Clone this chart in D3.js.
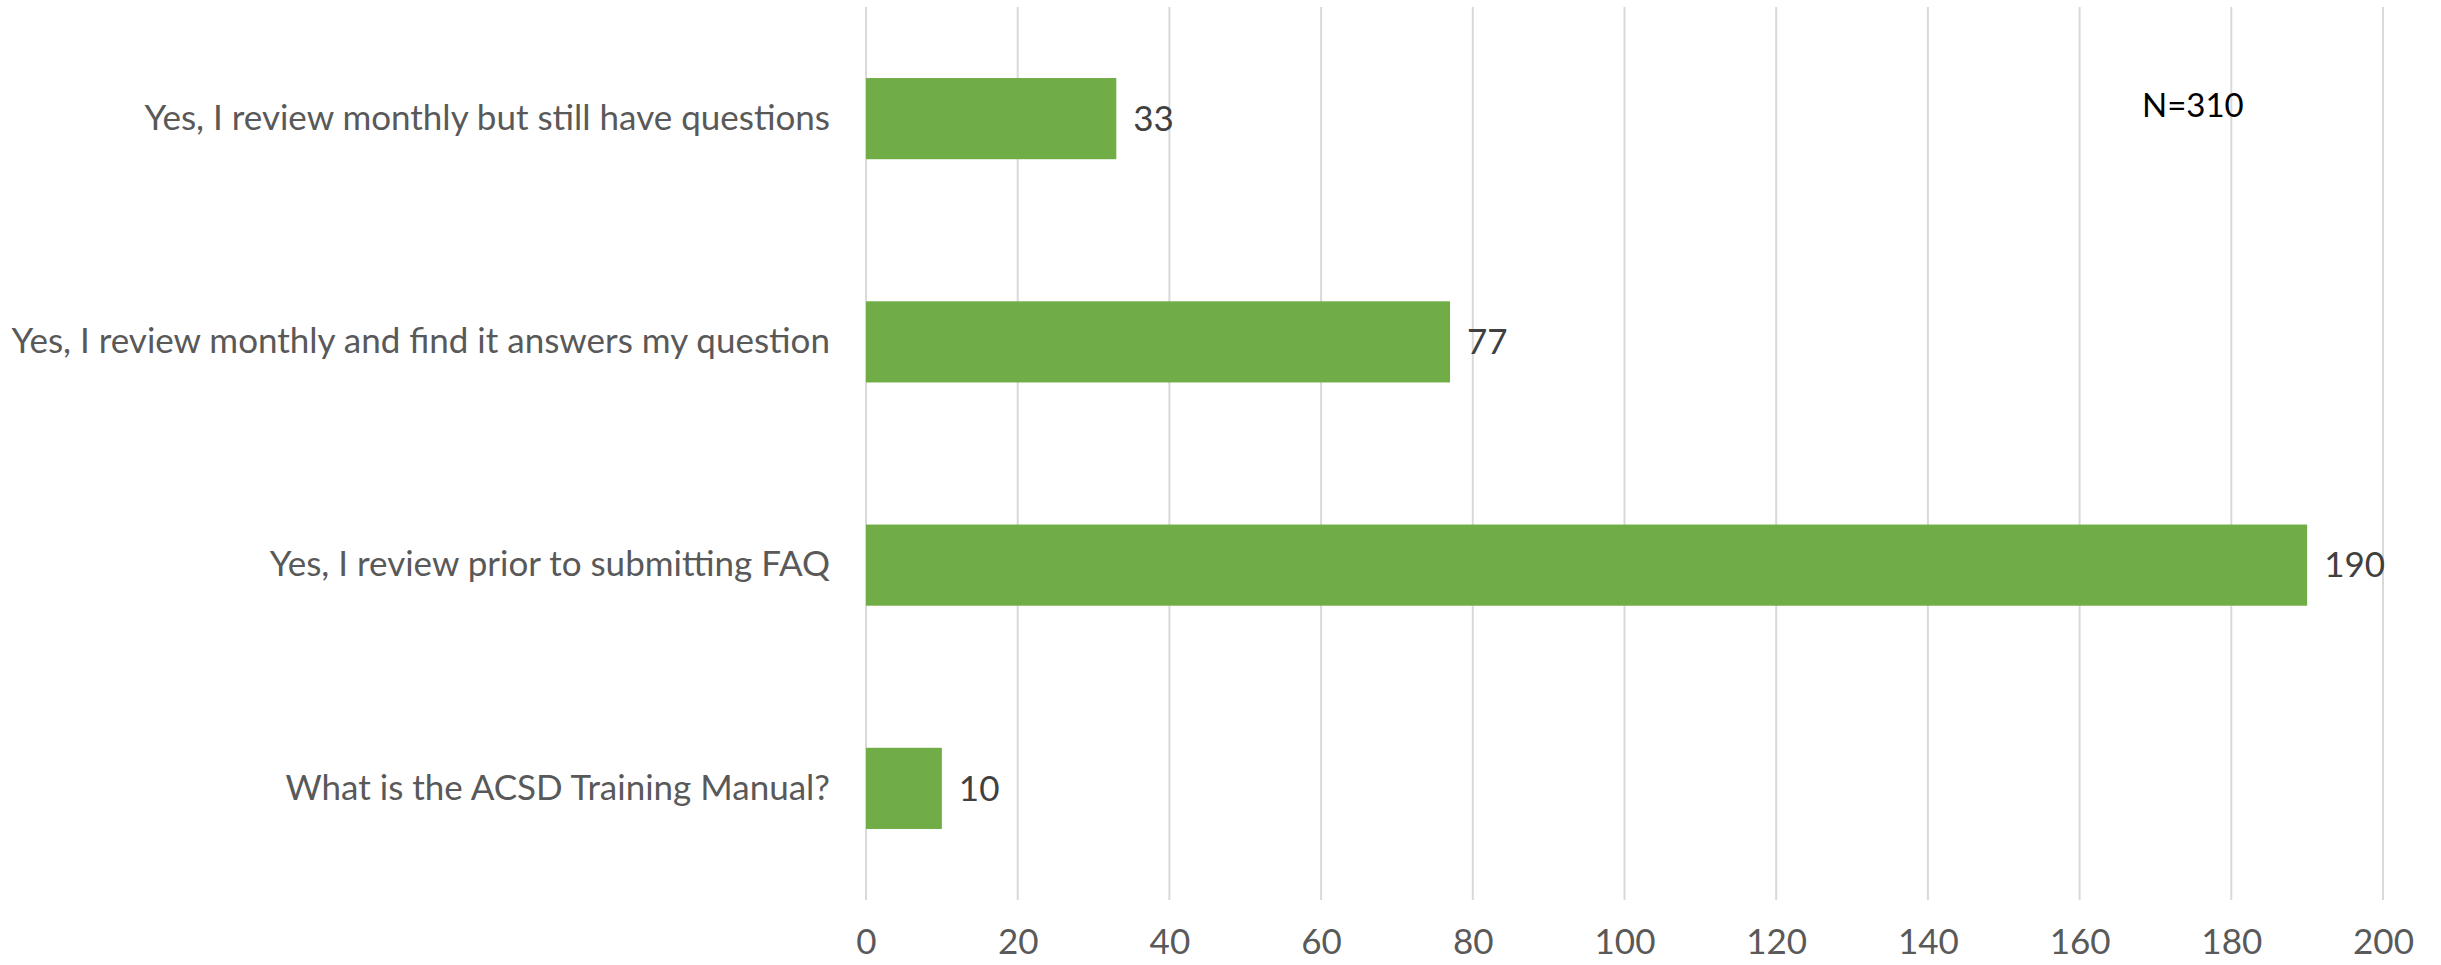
<!DOCTYPE html>
<html>
<head>
<meta charset="utf-8">
<script src="https://cdn.jsdelivr.net/npm/d3@7"></script>
<style>
  html, body { margin: 0; padding: 0; background: #ffffff; }
  svg { display: block; }
  text { font-family: Lato, "Open Sans", sans-serif; }
</style>
</head>
<body>
<svg id="chart" width="2441" height="965"></svg>
<script>
const categories = [
  "Yes, I review monthly but still have questions",
  "Yes, I review monthly and find it answers my question",
  "Yes, I review prior to submitting FAQ",
  "What is the ACSD Training Manual?"
];
const values = [33, 77, 190, 10];
const tickValues = [0, 20, 40, 60, 80, 100, 120, 140, 160, 180, 200];
const annotation = "N=310";

const W = 2441, H = 965;
const plot = { left: 866, right: 2383, top: 7, bottom: 900 };

const svg = d3.select("#chart");

const x = d3.scaleLinear().domain([0, 200]).range([plot.left, plot.right]);
const y = d3.scaleBand().domain(categories).range([plot.top, plot.bottom])
  .paddingInner(1.75 / 2.75).paddingOuter(1.75 / 2.75 / 2);

// gridlines
svg.append("g")
  .selectAll("line")
  .data(tickValues)
  .join("line")
  .attr("x1", d => x(d)).attr("x2", d => x(d))
  .attr("y1", plot.top).attr("y2", plot.bottom)
  .attr("stroke", "#d9d9d9").attr("stroke-width", 2);

// x axis labels
const xAxis = d3.axisBottom(x).tickValues(tickValues).tickSize(0).tickPadding(0);
const gx = svg.append("g").attr("transform", `translate(0,${plot.bottom})`).call(xAxis);
gx.select(".domain").remove();
gx.selectAll("text")
  .attr("dy", null).attr("y", 54)
  .attr("fill", "#595959").attr("font-size", 35)
  .attr("font-family", "Lato, 'Open Sans', sans-serif");

// bars
svg.append("g")
  .selectAll("rect")
  .data(categories)
  .join("rect")
  .attr("x", x(0))
  .attr("y", d => y(d))
  .attr("width", (d, i) => x(values[i]) - x(0))
  .attr("height", y.bandwidth())
  .attr("fill", "#70ad47");

// y axis labels
const yAxis = d3.axisLeft(y).tickSize(0).tickPadding(36);
const gy = svg.append("g").attr("transform", `translate(${plot.left},0)`).call(yAxis);
gy.select(".domain").remove();
gy.selectAll("text")
  .attr("fill", "#595959").attr("font-size", 35)
  .attr("font-family", "Lato, 'Open Sans', sans-serif");

// value labels
svg.append("g")
  .selectAll("text")
  .data(categories)
  .join("text")
  .attr("x", (d, i) => x(values[i]) + 17)
  .attr("y", d => y(d) + y.bandwidth() / 2)
  .attr("dy", "0.35em")
  .attr("fill", "#404040").attr("font-size", 35)
  .text((d, i) => values[i]);

// annotation
svg.append("text")
  .attr("x", 2142).attr("y", 117)
  .attr("fill", "#000000").attr("font-size", 33)
  .text(annotation);
</script>
</body>
</html>
